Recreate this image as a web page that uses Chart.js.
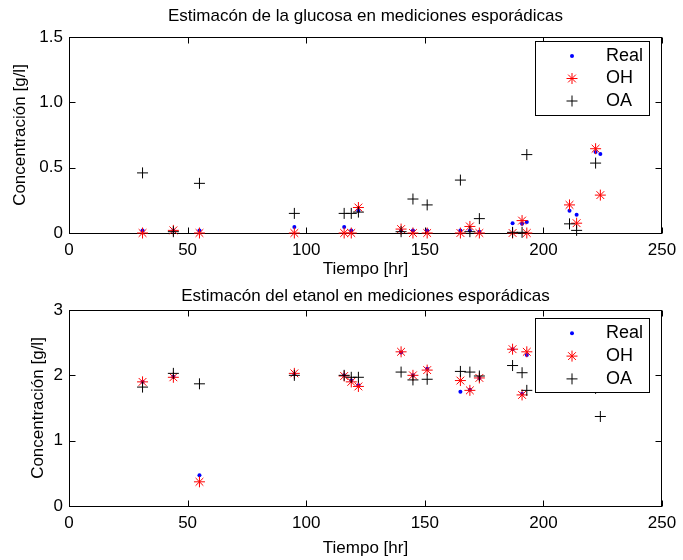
<!DOCTYPE html>
<html><head><meta charset="utf-8">
<script src="https://cdn.jsdelivr.net/npm/chart.js@4.4.1/dist/chart.umd.min.js"></script>
<style>html,body{margin:0;padding:0;background:#fff;}canvas{display:block;}</style>
</head><body>
<canvas id="c1" width="683" height="280"></canvas>
<canvas id="c2" width="683" height="280"></canvas>
<script>
// ---- data ----
const times = [31, 44, 55, 95, 116, 119, 122, 140, 145, 151, 165, 169, 173, 187, 191, 193, 211, 214, 222, 224];

const glucoseReal = [0.02, 0.02, 0.02, 0.045, 0.045, 0.02, 0.17, 0.02, 0.02, 0.02, 0.02, 0.02, 0.01, 0.075, 0.07, 0.085, 0.17, 0.14, 0.62, 0.605];
const glucoseOH   = [0.0, 0.02, 0.0, 0.0, 0.0, 0.0, 0.195, 0.03, 0.0, 0.0, 0.0, 0.05, 0.0, 0.0, 0.095, 0.0, 0.215, 0.075, 0.645, 0.29];
const glucoseOA   = [0.46, 0.01, 0.38, 0.15, 0.15, 0.15, 0.16, 0.01, 0.26, 0.215, 0.405, 0.01, 0.11, 0.005, 0.005, 0.6, 0.07, 0.02, 0.535, null];

const ethanolReal = [1.9, 1.98, 0.47, 2.02, 2.0, 1.92, 1.85, 2.35, 2.0, 2.1, 1.75, 1.78, 1.96, 2.4, 1.72, 2.31, null, null, null, null];
const ethanolOH   = [1.9, 1.97, 0.37, 2.03, 1.99, 1.9, 1.83, 2.36, 2.0, 2.08, 1.92, 1.77, 1.96, 2.4, 1.7, 2.36, null, null, null, null];
const ethanolOA   = [1.82, 2.03, 1.87, 2.0, 2.0, 1.97, 1.97, 2.05, 1.93, 1.94, 2.06, 2.05, 1.99, 2.15, 2.04, 1.77, null, null, 1.8, 1.37];

const seriesLabels = ['Real', 'OH', 'OA'];
const xTickStep = 50;
const titles = ['Estimacón de la glucosa en mediciones esporádicas', 'Estimacón del etanol en mediciones esporádicas'];
const xLabel = 'Tiempo [hr]';
const yLabel = 'Concentración [g/l]';

// ---- helpers ----
const FONT = '"Liberation Sans", Arial, Helvetica, sans-serif';
const FS = 17;
function pts(vals) {
  return times.map((t, i) => ({x: t, y: vals[i]})).filter(p => p.y !== null);
}

function drawMarker(ctx, ds, x, y) {
  ctx.save();
  const r = ds.pointRadius;
  if (ds.pointStyle === 'circle') {
    ctx.fillStyle = ds.pointBackgroundColor;
    ctx.beginPath(); ctx.arc(x, y, r, 0, Math.PI * 2); ctx.fill();
  } else {
    ctx.strokeStyle = ds.pointBorderColor; ctx.lineWidth = 1;
    ctx.beginPath();
    ctx.moveTo(x - r, y); ctx.lineTo(x + r, y);
    ctx.moveTo(x, y - r); ctx.lineTo(x, y + r);
    if (ds.pointStyle === 'star') {
      const d = r * Math.SQRT1_2;
      ctx.moveTo(x - d, y - d); ctx.lineTo(x + d, y + d);
      ctx.moveTo(x - d, y + d); ctx.lineTo(x + d, y - d);
    }
    ctx.stroke();
  }
  ctx.restore();
}

const boxPlugin = {
  id: 'matBox',
  beforeDatasetsDraw(chart) {
    const {ctx, chartArea: a, scales} = chart;
    const L = Math.round(a.left) + 0.5, R = Math.round(a.right) - 0.5;
    const T = Math.round(a.top) + 0.5, B = Math.round(a.bottom) + 0.5;
    ctx.save();
    ctx.strokeStyle = '#000'; ctx.lineWidth = 1;
    ctx.beginPath();
    const tl = 6;
    scales.x.ticks.forEach(t => {
      const px = Math.round(scales.x.getPixelForValue(t.value)) + 0.5;
      ctx.moveTo(px, B); ctx.lineTo(px, B - tl);
      ctx.moveTo(px, T); ctx.lineTo(px, T + tl);
    });
    scales.y.ticks.forEach(t => {
      const py = Math.round(scales.y.getPixelForValue(t.value)) + 0.5;
      ctx.moveTo(L, py); ctx.lineTo(L + tl, py);
      ctx.moveTo(R, py); ctx.lineTo(R - tl, py);
    });
    ctx.stroke();
    ctx.strokeRect(L, T, R - L, B - T);
    ctx.restore();
  }
};

const legendPlugin = {
  id: 'matLegend',
  afterDatasetsDraw(chart, args, o) {
    const {ctx, chartArea: a} = chart;
    const x0 = Math.round(a.right - o.right - o.width), y0 = Math.round(a.top + o.top);
    ctx.save();
    ctx.fillStyle = '#fff';
    ctx.fillRect(x0, y0, o.width, o.height);
    ctx.strokeStyle = '#000'; ctx.lineWidth = 1;
    ctx.strokeRect(x0 + 0.5, y0 + 0.5, o.width, o.height);
    chart.data.datasets.forEach((ds, i) => {
      const cy = y0 + o.first + i * o.step;
      drawMarker(ctx, ds, x0 + o.markerX, cy);
      ctx.fillStyle = '#000';
      ctx.font = o.fontSize + 'px ' + FONT;
      ctx.textBaseline = 'middle'; ctx.textAlign = 'left';
      ctx.fillText(ds.label, x0 + o.textX, cy);
    });
    ctx.restore();
  }
};

function makeDatasets(real, oh, oa) {
  return [
    {label: seriesLabels[0], data: pts(real), pointStyle: 'circle', pointRadius: 2, pointBackgroundColor: '#0000ff', pointBorderColor: '#0000ff', pointBorderWidth: 0, showLine: false, clip: false, order: 3},
    {label: seriesLabels[1], data: pts(oh), pointStyle: 'star', pointRadius: 5.5, pointBackgroundColor: '#ff0000', pointBorderColor: '#ff0000', pointBorderWidth: 1, showLine: false, clip: false, order: 2},
    {label: seriesLabels[2], data: pts(oa), pointStyle: 'cross', pointRadius: 5.5, pointBackgroundColor: '#000000', pointBorderColor: '#000000', pointBorderWidth: 1, showLine: false, clip: false, order: 1}
  ];
}

function makeChart(id, cfg) {
  return new Chart(document.getElementById(id), {
    type: 'scatter',
    data: {datasets: makeDatasets(cfg.real, cfg.oh, cfg.oa)},
    options: {
      responsive: false, animation: false, devicePixelRatio: 1,
      layout: {padding: {left: 0, right: 17, top: 0, bottom: 0}},
      plugins: {
        legend: {display: false}, tooltip: {enabled: false},
        title: {display: true, fullSize: false, text: cfg.title, color: '#000',
          font: {family: FONT, size: FS, weight: 'normal'},
          padding: {top: 5.8, bottom: cfg.titleBottom}},
        matLegend: cfg.legend
      },
      scales: {
        x: {type: 'linear', min: 0, max: 250,
          grid: {display: false, drawTicks: false}, border: {display: false},
          ticks: {stepSize: xTickStep, color: '#000', padding: 6.8, maxRotation: 0, autoSkip: false,
            font: {family: FONT, size: FS}},
          title: {display: true, text: xLabel, color: '#000', font: {family: FONT, size: FS},
            padding: {top: 0, bottom: cfg.xTitleBottom}},
          afterFit: s => { s.height = cfg.xHeight; }
        },
        y: {type: 'linear', min: 0, max: cfg.ymax,
          grid: {display: false, drawTicks: false}, border: {display: false},
          ticks: {stepSize: cfg.ystep, color: '#000', padding: 6, autoSkip: false,
            font: {family: FONT, size: FS}},
          title: {display: true, text: yLabel, color: '#000', font: {family: FONT, size: FS},
            padding: {top: cfg.yTitleTop, bottom: 0}},
          afterFit: s => { s.width = 69; }
        }
      }
    },
    plugins: [boxPlugin, legendPlugin]
  });
}

makeChart('c1', {
  real: glucoseReal, oh: glucoseOH, oa: glucoseOA, title: titles[0],
  titleBottom: 10.8, xHeight: 47, xTitleBottom: 0, ymax: 1.5, ystep: 0.5, yTitleTop: 9.8,
  legend: {top: 3.5, right: 13, width: 114, height: 74, first: 15, step: 22.5, markerX: 37, textX: 71, fontSize: 18}
});
makeChart('c2', {
  real: ethanolReal, oh: ethanolOH, oa: ethanolOA, title: titles[1],
  titleBottom: 3.8, xHeight: 54, xTitleBottom: 1.8, ymax: 3, ystep: 1, yTitleTop: 27.8,
  legend: {top: 8, right: 13, width: 114, height: 74, first: 15.3, step: 22.8, markerX: 37, textX: 71, fontSize: 18}
});
</script>
</body></html>
